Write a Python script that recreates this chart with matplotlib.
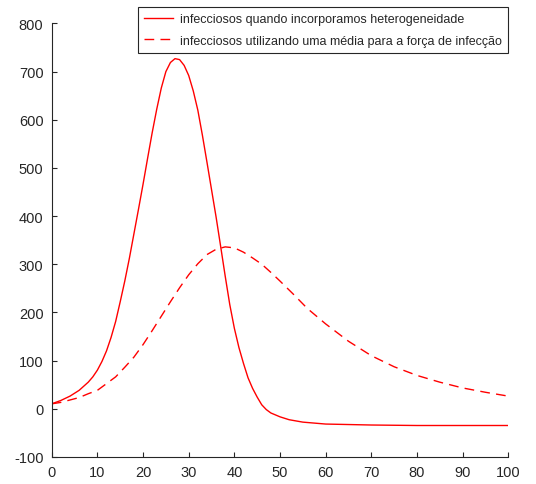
import matplotlib
matplotlib.use("Agg")
import matplotlib.pyplot as plt

# ---- data ----
x_het = [0, 2, 4, 6, 8, 9, 10, 11, 12, 13, 14, 15, 16, 17, 18, 19, 20, 21, 22, 23, 24, 25, 26, 27,
         28, 29, 30, 31, 32, 33, 34, 35, 36, 37, 38, 39, 40, 41, 42, 43, 44, 45, 46,
         47, 48, 49, 50, 52, 55, 60, 70, 80, 90, 100]
y_het = [10, 17, 26, 38, 55, 66, 80, 98, 120, 148, 181, 222, 265, 312, 363, 414, 466, 520, 573, 622, 666, 700, 719, 727,
         725, 713, 692, 660, 620, 568, 512, 455, 398, 337, 275, 216, 167, 127, 94, 64, 42, 24, 8,
         -2, -9, -13, -17, -23, -28, -32, -34, -35, -35, -35]

x_med = [0, 2, 4, 6, 8, 10, 12, 14, 16, 18, 20, 22, 24, 26, 28, 30, 32, 34, 36, 38,
         40, 42, 44, 46, 48, 50, 53, 56, 60, 65, 70, 75, 80, 85, 90, 95, 100]
y_med = [10, 13, 18, 23, 31, 38, 52, 66, 86, 107, 133, 162, 192, 222, 251, 278, 301, 320, 331, 336,
         334, 325, 313, 300, 283, 265, 237, 208, 176, 140, 110, 87, 69, 55, 43, 34, 26]

label_het = "infecciosos quando incorporamos heterogeneidade"
label_med = "infecciosos utilizando uma média para a força de infecção"

xticks = [0, 10, 20, 30, 40, 50, 60, 70, 80, 90, 100]
yticks = [-100, 0, 100, 200, 300, 400, 500, 600, 700, 800]

plt.rcParams['font.family'] = ['Liberation Sans', 'DejaVu Sans']

fig = plt.figure(figsize=(5.36, 4.85), dpi=100)
ax = fig.add_axes([0.0965, 0.0561, 0.8518, 0.8934])

red = '#ff0000'
ax.plot(x_het, y_het, color=red, lw=1.0, label=label_het)
ax.plot(x_med, y_med, color=red, lw=1.0, linestyle=(0, (7, 4.5)), label=label_med)

ax.set_xlim(0, 100)
ax.set_ylim(-100, 800)
ax.set_xticks(xticks)
ax.set_yticks(yticks)
ax.set_xticklabels([str(v) for v in xticks])
ax.set_yticklabels([str(v) for v in yticks])

for s in ['top', 'right']:
    ax.spines[s].set_visible(False)
for s in ['left', 'bottom']:
    ax.spines[s].set_color('#262626')
    ax.spines[s].set_linewidth(0.8)
ax.tick_params(direction='in', length=3.5, width=0.8, color='#262626',
               labelcolor='#262626', labelsize=10.5, pad=6)

leg = ax.legend(loc='upper right', bbox_to_anchor=(0.9483, 0.9835),
                bbox_transform=fig.transFigure, borderaxespad=0,
                fancybox=False, framealpha=1, edgecolor='#262626',
                fontsize=9.0, handlelength=2.3, handletextpad=0.6,
                borderpad=0.48, labelspacing=0.76)
leg.get_frame().set_linewidth(0.8)
for t in leg.get_texts():
    t.set_color('#262626')

fig.savefig("out.png", dpi=100)
